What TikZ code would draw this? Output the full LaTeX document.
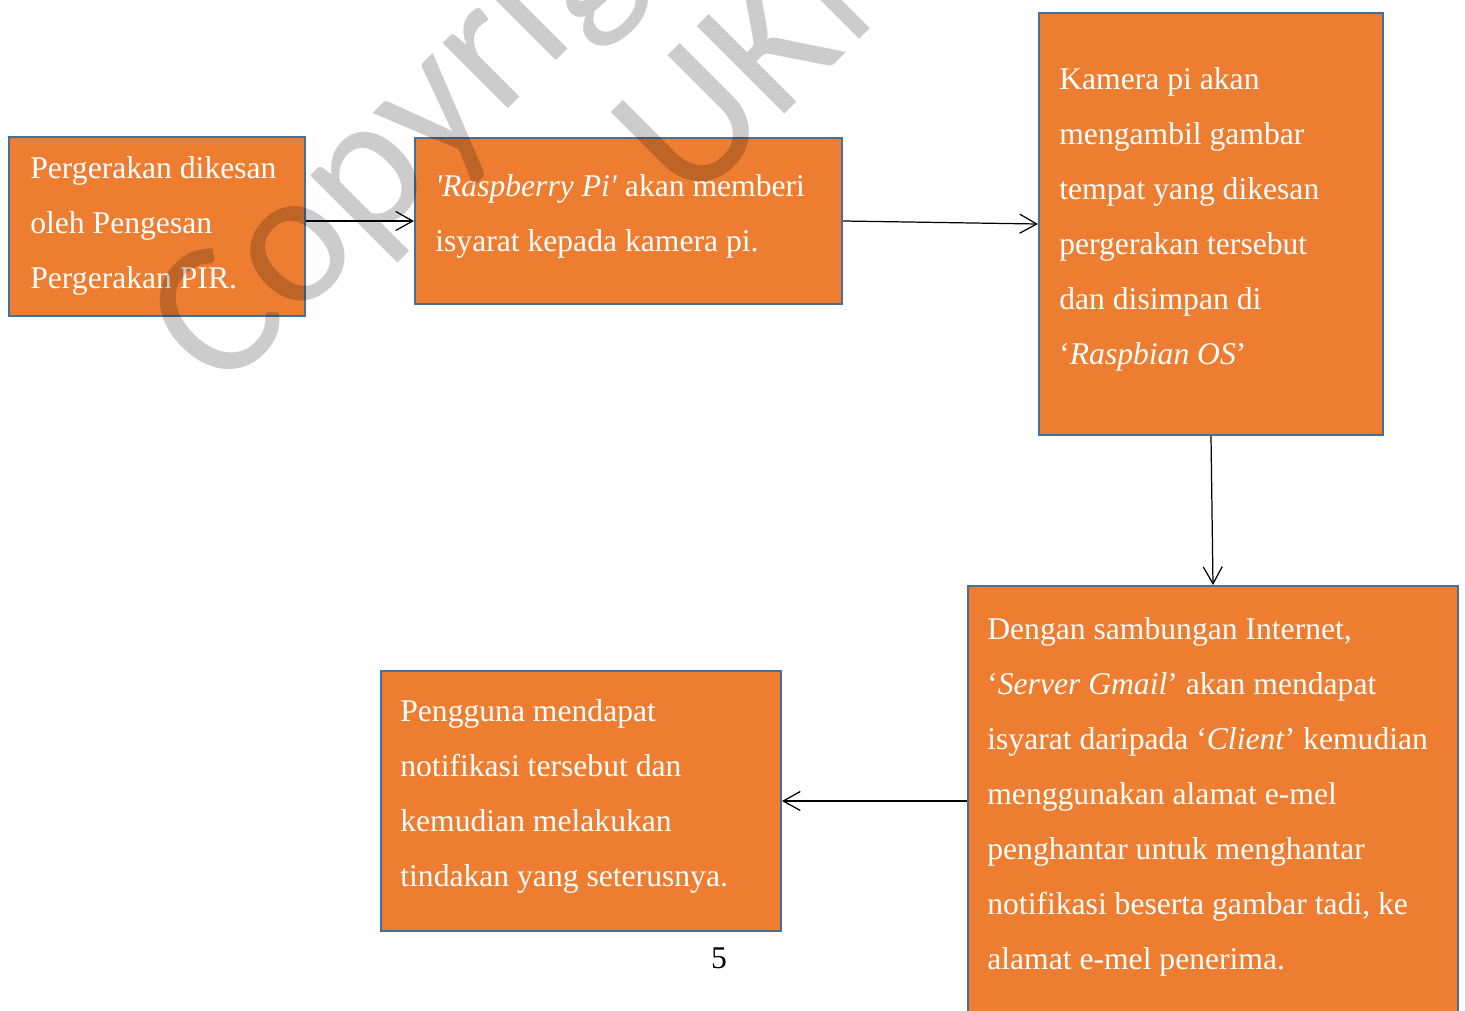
\documentclass[tikz,border=0pt]{standalone}
\usepackage{fontspec}
\setmainfont{Liberation Serif}
\newfontfamily\markfont{Carlito}
\usetikzlibrary{arrows.meta}
\definecolor{boxorange}{HTML}{ED7D31}
\definecolor{boxblue}{HTML}{41719C}
\tikzset{
  box/.style={draw=boxblue, fill=boxorange, line width=1.2pt, inner sep=0pt},
  boxtext/.style={text=white, font=\fontsize{18}{31.3}\selectfont, align=left, anchor=base west, inner sep=0pt},
  flow/.style={-{Straight Barb[length=0.34cm,width=0.38cm]}, line width=0.7pt},
  watermark/.style={text=black, text opacity=0.2, font=\markfont\fontsize{110}{125}\selectfont, rotate=45, anchor=base west, inner sep=0pt}
}
\begin{document}
\begin{tikzpicture}[x=0.02cm,y=-0.02cm]
      \useasboundingbox (0,0) rectangle (1465,1011);
      \clip (0,0) rectangle (1465,1011);
      % kotak aliran
      \node[box, minimum width=5.92cm, minimum height=3.58cm] (pir) at (157,226.5) {};
      \node[box, minimum width=8.54cm, minimum height=3.32cm] (rasp) at (628.5,221) {};
      \node[box, minimum width=6.88cm, minimum height=8.44cm] (kamera) at (1211,224) {};
      \node[box, minimum width=9.8cm, minimum height=9.08cm] (gmail) at (1213,813) {};
      \node[box, minimum width=8cm, minimum height=5.2cm] (pengguna) at (581,801) {};
      % teks (titik = garis dasar baris terakhir)
      \node[boxtext] (pirtext) at (30,288) {Pergerakan dikesan\\oleh Pengesan\\Pergerakan PIR.};
      \node[boxtext] (rasptext) at (435,251) {\textit{\textquotesingle Raspberry Pi\textquotesingle} akan memberi\\isyarat kepada kamera pi.};
      \node[boxtext] (kameratext) at (1059,364) {Kamera pi akan\\mengambil gambar\\tempat yang dikesan\\pergerakan tersebut\\dan disimpan di\\`\textit{Raspbian OS}'};
      \node[boxtext] (gmailtext) at (987,969) {Dengan sambungan Internet,\\`\textit{Server Gmail}' akan mendapat\\isyarat daripada `\textit{Client}' kemudian\\menggunakan alamat e-mel\\penghantar untuk menghantar\\notifikasi beserta gambar tadi, ke\\alamat e-mel penerima.};
      \node[boxtext] (penggunatext) at (400,886) {Pengguna mendapat\\notifikasi tersebut dan\\kemudian melakukan\\tindakan yang seterusnya.};
      \node[font=\fontsize{18}{22}\selectfont, anchor=base, inner sep=0pt] (page) at (719,968) {5};
      % anak panah
      \draw[flow] (pir.east |- rasp.west) -- (rasp.west);
      \draw[flow] (rasp.east) -- (kamera.west);
      \draw[flow] (kamera.south) -- (gmail.north);
      \draw[flow] (gmail.west |- pengguna.east) -- (pengguna.east);
      % tera air
      \node[watermark] (copy) at (221,396) {Copyright};
      \node[watermark] (ukm) at (689,210) {UKM};
    \end{tikzpicture}
\end{document}
